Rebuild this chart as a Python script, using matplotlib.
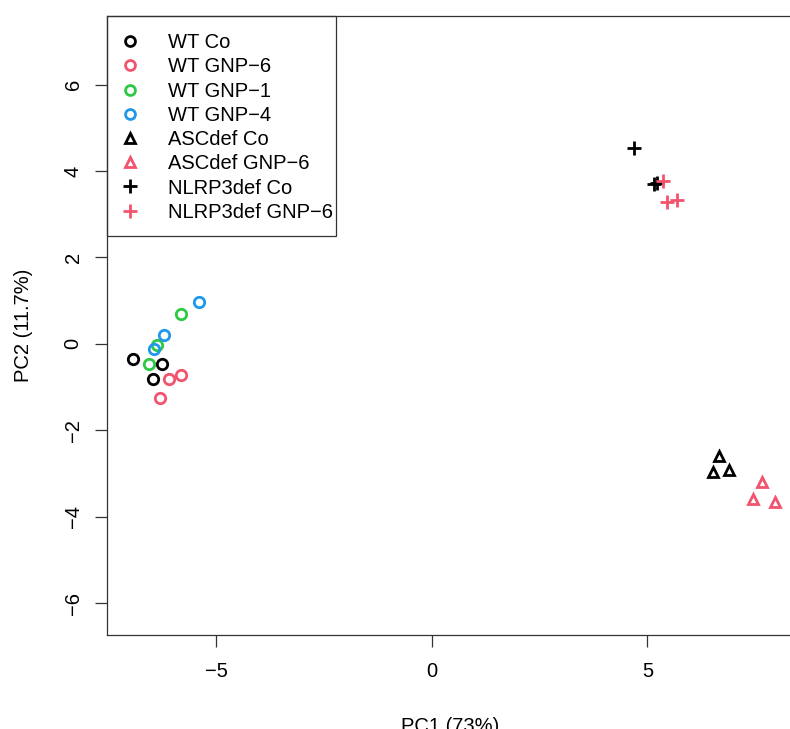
import numpy as np
import matplotlib.pyplot as plt
from matplotlib.patches import Rectangle

# PCA scores
wt_co_x = [-6.94, -6.26, -6.48]
wt_co_y = [-0.35, -0.46, -0.81]
wt_gnp6_x = [-6.10, -5.82, -6.31]
wt_gnp6_y = [-0.81, -0.73, -1.26]
wt_gnp1_x = [-5.82, -6.37, -6.56]
wt_gnp1_y = [0.69, -0.02, -0.46]
wt_gnp4_x = [-5.41, -6.21, -6.44]
wt_gnp4_y = [0.96, 0.21, -0.12]
asc_co_x = [6.67, 6.53, 6.89]
asc_co_y = [-2.59, -2.97, -2.93]
asc_gnp6_x = [7.66, 7.45, 7.96]
asc_gnp6_y = [-3.20, -3.59, -3.66]
nlrp_co_x = [4.69, 5.16, 5.22]
nlrp_co_y = [4.53, 3.71, 3.73]
nlrp_gnp6_x = [5.37, 5.45, 5.68]
nlrp_gnp6_y = [3.77, 3.29, 3.33]

groups = ['WT Co', 'WT GNP\u22126', 'WT GNP\u22121', 'WT GNP\u22124',
          'ASCdef Co', 'ASCdef GNP\u22126', 'NLRP3def Co', 'NLRP3def GNP\u22126']

black = '#000000'
pink = '#F2546E'
green = '#2DC943'
blue = '#1F98EC'

plt.rcParams['font.family'] = ['Liberation Sans', 'DejaVu Sans']
fs = 14.5

fig = plt.figure(figsize=(7.9, 7.29), dpi=100)
ax = fig.add_axes([107/790, (729-635)/729, 687/790, 619/729])

series = [
    (wt_co_x, wt_co_y, black, 'o'),
    (wt_gnp6_x, wt_gnp6_y, pink, 'o'),
    (wt_gnp1_x, wt_gnp1_y, green, 'o'),
    (wt_gnp4_x, wt_gnp4_y, blue, 'o'),
    (asc_co_x, asc_co_y, black, '^'),
    (asc_gnp6_x, asc_gnp6_y, pink, '^'),
    (nlrp_co_x, nlrp_co_y, black, '+'),
    (nlrp_gnp6_x, nlrp_gnp6_y, pink, '+'),
]

for (xs, ys, col, mk), name in zip(series, groups):
    if mk == '+':
        ax.plot(xs, ys, linestyle='none', marker=mk, markersize=10,
                markeredgewidth=2, color=col, label=name)
    else:
        ax.plot(xs, ys, linestyle='none', marker=mk, markersize=7.5,
                markerfacecolor='none', markeredgewidth=2,
                markeredgecolor=col, label=name)

ax.set_xlim(-7.54, 8.4)
ax.set_ylim(-6.74, 7.59)
ax.set_xticks([-5, 0, 5])
ax.set_xticklabels(['\u22125', '0', '5'])
ax.set_yticks([-6, -4, -2, 0, 2, 4, 6])
ax.set_yticklabels(['\u22126', '\u22124', '\u22122', '0', '2', '4', '6'],
                   rotation=90, va='center')
ax.tick_params(direction='out', length=8.6, width=0.9, labelsize=fs,
               color='#333333')
ax.tick_params(axis='x', pad=11)
ax.tick_params(axis='y', pad=9)
for s in ax.spines.values():
    s.set_linewidth(0.9)
    s.set_color('#333333')

ax.set_xlabel('PC1 (73%)', fontsize=fs, labelpad=26)
ax.set_ylabel('PC2 (11.7%)', fontsize=fs, labelpad=22)

# legend items without frame, R-style box drawn separately
leg = ax.legend(loc='upper left', bbox_to_anchor=(0, 1), borderaxespad=0,
                frameon=False, fontsize=fs,
                labelspacing=0.26, handletextpad=1.6, borderpad=0.85,
                handlelength=0.6, markerscale=0.95)
ax.add_patch(Rectangle((0, 0.6446), 0.3333, 0.3554, transform=ax.transAxes,
                       fill=False, edgecolor='#333333', linewidth=0.9,
                       clip_on=False, zorder=5))

fig.savefig('out.png', dpi=100)
